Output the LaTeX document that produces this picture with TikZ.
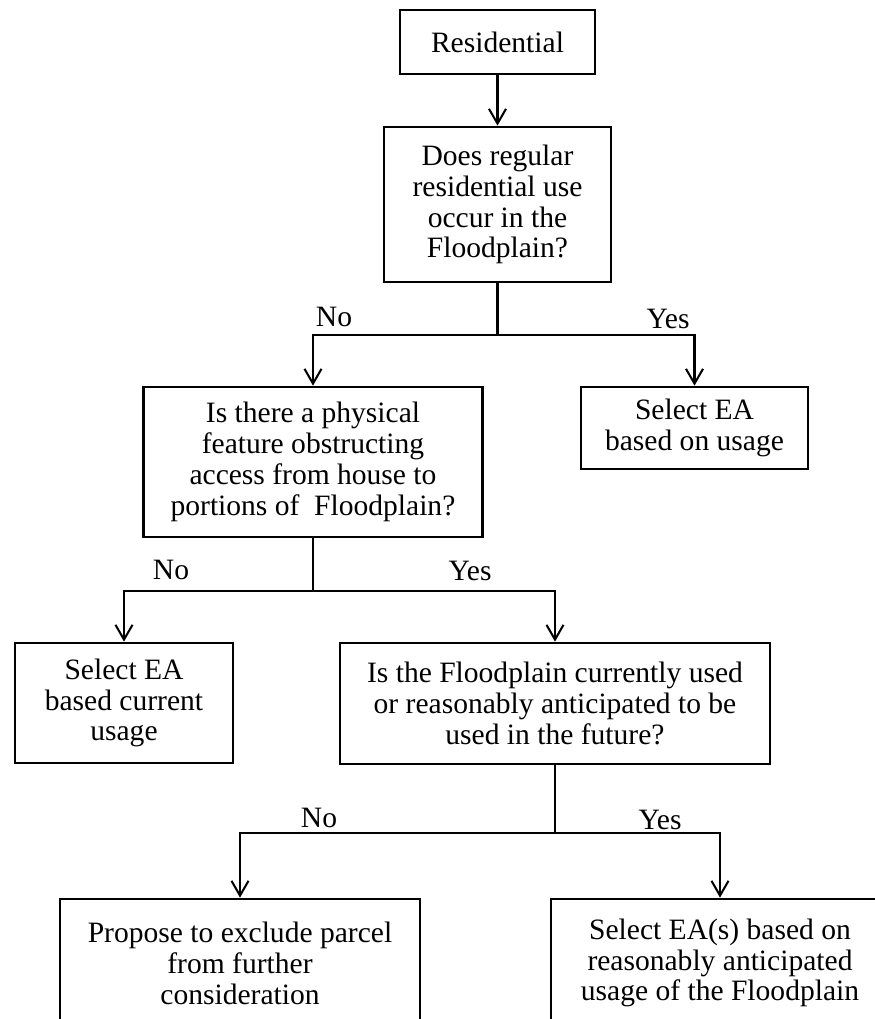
\documentclass[tikz,border=0pt]{standalone}
\usepackage{fontspec}
\setmainfont{Liberation Serif}
\usepackage{tikz}
\usetikzlibrary{arrows.meta, positioning, calc}

\begin{document}
\begin{tikzpicture}[x=0.44pt, y=-0.44pt,
    block/.style={draw, line width=1.2pt, align=center, inner sep=2pt,
        font=\fontsize{13}{13.6}\selectfont},
    link/.style={line width=0.9pt, -{Straight Barb[length=6.5pt, width=7.5pt, line width=0.9pt]}},
    answer/.style={anchor=base, font=\fontsize{13}{13.6}\selectfont}]
\clip (0,0) rectangle (875,1019);

% Boxes
\node[block, minimum width=195*0.44pt, minimum height=64*0.44pt] (res) at (497.5,42) {Residential};
\node[block, minimum width=227*0.44pt, minimum height=155*0.44pt] (q1) at (497.5,204.5)
    {Does regular\\residential use\\occur in the\\Floodplain?};
\node[block, minimum width=339*0.44pt, minimum height=150*0.44pt] (q2) at (313,462)
    {Is there a physical\\feature obstructing\\access from house to\\portions of \ Floodplain?};
\node[block, minimum width=227*0.44pt, minimum height=82*0.44pt] (usage) at (694.5,428)
    {Select EA\\based on usage};
\node[block, minimum width=218*0.44pt, minimum height=120*0.44pt] (current) at (124,703)
    {Select EA\\based current\\usage};
\node[block, minimum width=430*0.44pt, minimum height=121*0.44pt] (q3) at (555,703.5)
    {Is the Floodplain currently used\\or reasonably anticipated to be\\used in the future?};
\node[block, minimum width=360*0.44pt, minimum height=128*0.44pt] (exclude) at (240,963)
    {Propose to exclude parcel\\from further\\consideration};
\node[block, minimum width=338*0.44pt, minimum height=128*0.44pt] (select) at (720,963)
    {Select EA(s) based on\\reasonably anticipated\\usage of the Floodplain};

% Connectors
\draw[link] (res) -- (q1);
\draw[line width=0.9pt] (q1.south) -- ++(0,52) coordinate (j1);
\draw[link] (j1) -| (q2.north);
\draw[link] (j1) -| (usage.north);
\draw[line width=0.9pt] (q2.south) -- ++(0,53) coordinate (j2);
\draw[link] (j2) -| (current.north);
\draw[link] (j2) -| (q3.north);
\draw[line width=0.9pt] (q3.south) -- ++(0,68) coordinate (j3);
\draw[link] (j3) -| (exclude.north);
\draw[link] (j3) -| (select.north);

% Answers
\node[answer] (no1) at (334,326) {No};
\node[answer] (yes1) at (668,328) {Yes};
\node[answer] (no2) at (171,579) {No};
\node[answer] (yes2) at (470,580) {Yes};
\node[answer] (no3) at (319,827) {No};
\node[answer] (yes3) at (660,829) {Yes};
\end{tikzpicture}
\end{document}
